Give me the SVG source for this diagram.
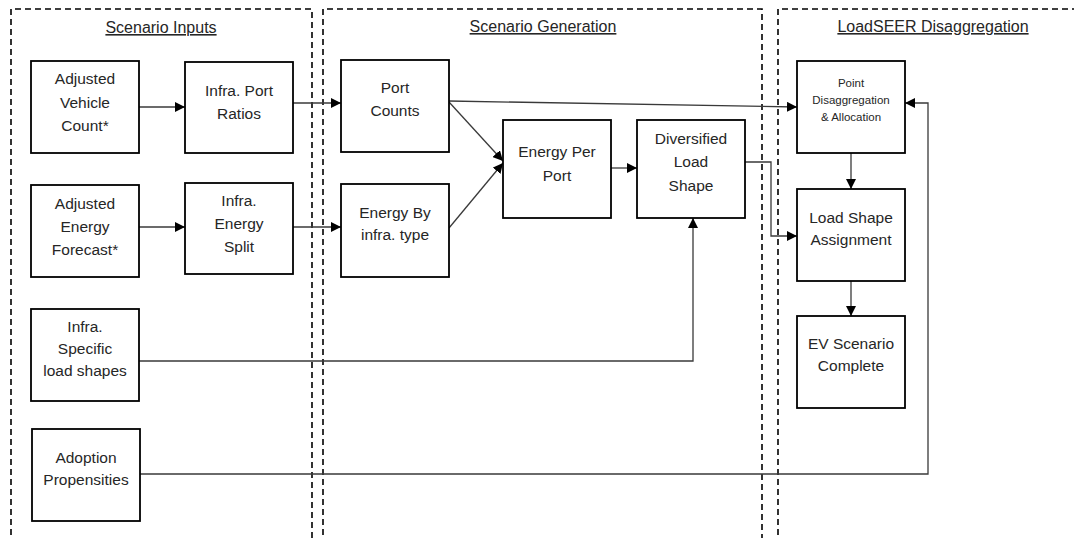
<svg xmlns="http://www.w3.org/2000/svg" width="1074" height="538" viewBox="0 0 1074 538">
<style>
.zone{fill:none;stroke:#000;stroke-width:1.6;stroke-dasharray:6 4}
.box{fill:#fff;stroke:#000;stroke-width:1.8}
.t{font-family:"Liberation Sans",Arial,sans-serif;font-size:15.5px;fill:#262626;text-anchor:middle}
.ts{font-family:"Liberation Sans",Arial,sans-serif;font-size:11.5px;fill:#262626;text-anchor:middle}
.title{font-family:"Liberation Sans",Arial,sans-serif;font-size:16px;fill:#262626;text-anchor:middle;text-decoration:underline}
.c{fill:none;stroke:#3a3a3a;stroke-width:1.3}
</style>
<defs>
<marker id="ah" viewBox="0 0 10 10" refX="10" refY="5" markerWidth="10" markerHeight="10" markerUnits="userSpaceOnUse" orient="auto">
<path d="M0,0 L10,5 L0,10 Z" fill="#000"/>
</marker>
</defs>
<rect width="1074" height="538" fill="#fff"/>
<g id="zones">
<path class="zone" d="M11,545 V9 H312 V545"/>
<path class="zone" d="M323,545 V9 H762 V545"/>
<path class="zone" d="M778,545 V9 H1080"/>
<text class="title" x="161" y="33">Scenario Inputs</text>
<text class="title" x="543" y="32">Scenario Generation</text>
<text class="title" x="933" y="32">LoadSEER Disaggregation</text>
</g>
<g id="connectors">
<path class="c" d="M139,107 H185" marker-end="url(#ah)"/>
<path class="c" d="M293,103 H341" marker-end="url(#ah)"/>
<path class="c" d="M139,227 H185" marker-end="url(#ah)"/>
<path class="c" d="M293,227 H341" marker-end="url(#ah)"/>
<path class="c" d="M449,102 L503,161" marker-end="url(#ah)"/>
<path class="c" d="M449,228 L503,163" marker-end="url(#ah)"/>
<path class="c" d="M449,101 L797,107" marker-end="url(#ah)"/>
<path class="c" d="M611,168 H637" marker-end="url(#ah)"/>
<path class="c" d="M745,162 H771 V236 H797" marker-end="url(#ah)"/>
<path class="c" d="M139,361 H693 V218" marker-end="url(#ah)"/>
<path class="c" d="M140,474 H928 V103 H905" marker-end="url(#ah)"/>
<path class="c" d="M851,153 V189" marker-end="url(#ah)"/>
<path class="c" d="M851,281 V316" marker-end="url(#ah)"/>
</g>
<g id="adjusted-vehicle-count">
<rect class="box" x="31" y="61" width="108" height="92"/>
<text class="t" x="85" y="84">Adjusted</text>
<text class="t" x="85" y="108">Vehicle</text>
<text class="t" x="85" y="131">Count*</text>
</g>
<g id="infra-port-ratios">
<rect class="box" x="185" y="62" width="108" height="91"/>
<text class="t" x="239" y="96">Infra. Port</text>
<text class="t" x="239" y="119">Ratios</text>
</g>
<g id="port-counts">
<rect class="box" x="341" y="60" width="108" height="92"/>
<text class="t" x="395" y="93">Port</text>
<text class="t" x="395" y="116">Counts</text>
</g>
<g id="energy-per-port">
<rect class="box" x="503" y="120" width="108" height="98"/>
<text class="t" x="557" y="157">Energy Per</text>
<text class="t" x="557" y="181">Port</text>
</g>
<g id="diversified-load-shape">
<rect class="box" x="637" y="120" width="108" height="98"/>
<text class="t" x="691" y="144">Diversified</text>
<text class="t" x="691" y="167">Load</text>
<text class="t" x="691" y="191">Shape</text>
</g>
<g id="point-disaggregation">
<rect class="box" x="797" y="61" width="108" height="92"/>
<text class="ts" x="851" y="87">Point</text>
<text class="ts" x="851" y="104">Disaggregation</text>
<text class="ts" x="851" y="121">&amp; Allocation</text>
</g>
<g id="load-shape-assignment">
<rect class="box" x="797" y="189" width="108" height="92"/>
<text class="t" x="851" y="223">Load Shape</text>
<text class="t" x="851" y="245">Assignment</text>
</g>
<g id="ev-scenario-complete">
<rect class="box" x="797" y="316" width="108" height="92"/>
<text class="t" x="851" y="349">EV Scenario</text>
<text class="t" x="851" y="371">Complete</text>
</g>
<g id="adjusted-energy-forecast">
<rect class="box" x="31" y="185" width="108" height="92"/>
<text class="t" x="85" y="209">Adjusted</text>
<text class="t" x="85" y="232">Energy</text>
<text class="t" x="85" y="255">Forecast*</text>
</g>
<g id="infra-energy-split">
<rect class="box" x="185" y="183" width="108" height="91"/>
<text class="t" x="239" y="206">Infra.</text>
<text class="t" x="239" y="229">Energy</text>
<text class="t" x="239" y="252">Split</text>
</g>
<g id="energy-by-infra-type">
<rect class="box" x="341" y="184" width="108" height="93"/>
<text class="t" x="395" y="218">Energy By</text>
<text class="t" x="395" y="240">infra. type</text>
</g>
<g id="infra-specific-load-shapes">
<rect class="box" x="31" y="309" width="108" height="92"/>
<text class="t" x="85" y="332">Infra.</text>
<text class="t" x="85" y="354">Specific</text>
<text class="t" x="85" y="376">load shapes</text>
</g>
<g id="adoption-propensities">
<rect class="box" x="32" y="429" width="108" height="92"/>
<text class="t" x="86" y="463">Adoption</text>
<text class="t" x="86" y="485">Propensities</text>
</g>
</svg>
